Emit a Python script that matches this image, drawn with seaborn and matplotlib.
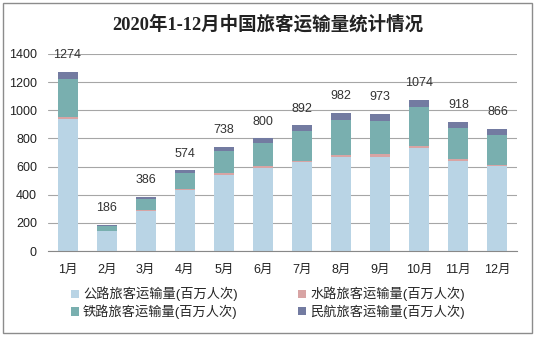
import matplotlib
matplotlib.use("Agg")
import matplotlib.pyplot as plt
from matplotlib.patches import Rectangle
import seaborn as sns
import pandas as pd
import numpy as np

months = ["1月", "2月", "3月", "4月", "5月", "6月", "7月", "8月", "9月", "10月", "11月", "12月"]
road = [940, 140, 286, 436, 542, 593, 632, 668, 668, 732, 640, 604]
water = [12, 3, 7, 7, 12, 9, 10, 14, 21, 14, 14, 7]
rail = [270, 35, 77, 111, 157, 166, 212, 250, 236, 275, 220, 213]
air = [52, 8, 16, 20, 27, 32, 38, 50, 48, 53, 44, 42]
totals = [1274, 186, 386, 574, 738, 800, 892, 982, 973, 1074, 918, 866]

series_names = ["公路旅客运输量(百万人次)", "水路旅客运输量(百万人次)",
                "铁路旅客运输量(百万人次)", "民航旅客运输量(百万人次)"]
colors = ["#B9D4E5", "#D8A4A4", "#79AFAF", "#737BA1"]

sns.set_theme(style="white")
plt.rcParams["font.family"] = ["Liberation Sans", "Noto Sans CJK SC"]

df = pd.DataFrame({"月份": months, "公路": road, "水路": water, "铁路": rail, "民航": air})
layers = [
    df["公路"] + df["水路"] + df["铁路"] + df["民航"],
    df["公路"] + df["水路"] + df["铁路"],
    df["公路"] + df["水路"],
    df["公路"],
]
layer_names = [series_names[3], series_names[2], series_names[1], series_names[0]]
layer_colors = [colors[3], colors[2], colors[1], colors[0]]

fig = plt.figure(figsize=(5.36, 3.38), dpi=100)
ax = fig.add_axes([48 / 536, 1 - 251 / 338, 469 / 536, 197 / 338])

# stacked bars: draw cumulative totals from the top layer down
for vals, name, col in zip(layers, layer_names, layer_colors):
    sns.barplot(x=df["月份"], y=vals, order=months, color=col, width=0.51,
                saturation=1, ax=ax, label=name, linewidth=0)
if ax.get_legend() is not None:
    ax.get_legend().remove()

ax.set_ylim(0, 1400)
ax.set_xlim(-0.5, 11.5)
ax.set_yticks(np.arange(0, 1401, 200))
ax.yaxis.grid(True, color="#A6A6A6", linewidth=0.8)
ax.set_axisbelow(True)
for s in ["top", "right", "left"]:
    ax.spines[s].set_visible(False)
ax.spines["bottom"].set_color("#888888")
ax.spines["bottom"].set_linewidth(0.8)
ax.set_xlabel("")
ax.set_ylabel("")
ax.tick_params(axis="y", length=0, labelsize=9, colors="#222222", pad=8)
ax.set_xticks(range(12))
ax.set_xticklabels(months, fontsize=9, color="#222222")
ax.tick_params(axis="x", length=0, pad=9)
# tick marks at category boundaries
ax.set_xticks(np.arange(-0.5, 12, 1), minor=True)
ax.tick_params(axis="x", which="minor", length=4, color="#888888", width=0.8, direction="out")

for i, t in enumerate(totals):
    ax.annotate(str(t), (i, t), xytext=(0, 12), textcoords="offset points",
                ha="center", va="center", fontsize=9, color="#333333")

handles, labels = ax.get_legend_handles_labels()
order = {n: h for h, n in zip(handles, labels)}
leg_names = [series_names[0], series_names[2], series_names[1], series_names[3]]
fig.legend([order[n] for n in leg_names], leg_names, ncol=2, loc="center",
           bbox_to_anchor=(0.5, 1 - 303 / 338), frameon=False, fontsize=9.5,
           handlelength=0.6, handleheight=0.6, handletextpad=0.3,
           columnspacing=4.6, labelspacing=0.25, borderpad=0)

fig.text(0.5, 1 - 24 / 338, "2020年1-12月中国旅客运输量统计情况", ha="center", va="center",
         fontsize=13.3, fontweight="bold", color="#222222",
         family=["Liberation Serif", "Noto Sans CJK SC"])

fig.patches.append(Rectangle((3 / 536, 5 / 338), 529 / 536, 330 / 338,
                             transform=fig.transFigure, fill=False,
                             edgecolor="#8C8C8C", linewidth=1))

fig.savefig("out.png", dpi=100)
